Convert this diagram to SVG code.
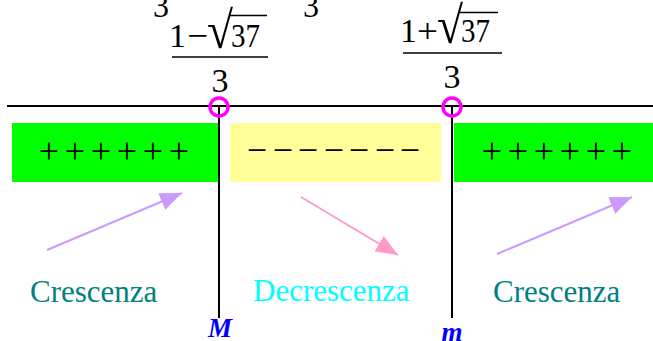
<svg xmlns="http://www.w3.org/2000/svg" width="653" height="341" viewBox="0 0 653 341">
<style>
.t{font-family:"Liberation Serif","Times New Roman",serif;fill:#000}
.f{font-size:34px}
.rad{font-size:52px}
.sign{font-size:36px;text-anchor:middle}
.lab{font-size:31px}
.pt{font-family:"Liberation Serif","Times New Roman",serif;font-size:27px;font-weight:bold;font-style:italic;fill:#0000ff;text-anchor:middle}
.crit{fill:none;stroke:#ff00ff;stroke-width:3.5}
.bar{stroke:#000;stroke-width:1.6}
</style>
<defs>
<marker id="hp" viewBox="0 0 22 18" refX="22" refY="9" markerWidth="22" markerHeight="18" markerUnits="userSpaceOnUse" orient="auto"><path d="M0,0 L22,9 L0,18 z" fill="#cc99ff"/></marker>
<marker id="hk" viewBox="0 0 22 18" refX="22" refY="9" markerWidth="22" markerHeight="18" markerUnits="userSpaceOnUse" orient="auto"><path d="M0,0 L22,9 L0,18 z" fill="#ff99cc"/></marker>
</defs>
<rect width="653" height="341" fill="#fff"/>
<g id="top-fragments">
<text class="t f" x="153" y="17" textLength="16" lengthAdjust="spacingAndGlyphs">3</text>
<text class="t f" x="303" y="17" textLength="16" lengthAdjust="spacingAndGlyphs">3</text>
</g>
<g id="root1">
<text class="t f" x="169" y="47" textLength="17" lengthAdjust="spacingAndGlyphs">1</text>
<text class="t f" x="187" y="47" textLength="21" lengthAdjust="spacingAndGlyphs">−</text>
<text class="t rad" x="207" y="48" textLength="26" lengthAdjust="spacingAndGlyphs">√</text>
<line class="bar" x1="230" y1="15.5" x2="267" y2="15.5"/>
<text class="t f" x="231" y="47" textLength="29" lengthAdjust="spacingAndGlyphs">37</text>
<line class="bar" x1="172" y1="57" x2="268" y2="57"/>
<text class="t f" x="220" y="92" text-anchor="middle">3</text>
</g>
<g id="root2">
<text class="t f" x="400" y="42" textLength="17" lengthAdjust="spacingAndGlyphs">1</text>
<text class="t f" x="417" y="42" textLength="21" lengthAdjust="spacingAndGlyphs">+</text>
<text class="t rad" x="437" y="43" textLength="26" lengthAdjust="spacingAndGlyphs">√</text>
<line class="bar" x1="460" y1="12.5" x2="498" y2="12.5"/>
<text class="t f" x="461" y="42" textLength="29" lengthAdjust="spacingAndGlyphs">37</text>
<line class="bar" x1="403" y1="53" x2="502" y2="53"/>
<text class="t f" x="452" y="88" text-anchor="middle">3</text>
</g>
<g id="axis">
<line x1="7" y1="106" x2="653" y2="106" stroke="#000" stroke-width="2"/>
</g>
<g id="sign-plus-left">
<rect x="12" y="123" width="206" height="59" fill="#00ff00"/>
<text class="t sign" x="49 75 101 127 153 179" y="162.5">++++++</text>
</g>
<g id="sign-minus">
<rect x="230" y="123" width="211" height="59" fill="#ffff99"/>
<text class="t sign" x="257 283 308 334 359 385 410" y="162">−−−−−−−</text>
</g>
<g id="sign-plus-right">
<rect x="454" y="123" width="199" height="59" fill="#00ff00"/>
<text class="t sign" x="492 518 544 570 596 622" y="162.5">++++++</text>
</g>
<g id="point-M">
<line x1="219" y1="107" x2="219" y2="318" stroke="#000" stroke-width="2"/>
<circle class="crit" cx="219" cy="107" r="9"/>
<text class="pt" x="220" y="337">M</text>
</g>
<g id="point-m">
<line x1="452" y1="107" x2="452" y2="318" stroke="#000" stroke-width="2"/>
<circle class="crit" cx="452" cy="107" r="9"/>
<text class="pt" x="452" y="341">m</text>
</g>
<g id="connectors">
<line x1="47" y1="250" x2="182" y2="193" stroke="#cc99ff" stroke-width="2" marker-end="url(#hp)"/>
<line x1="301" y1="197" x2="398" y2="255" stroke="#ff99cc" stroke-width="2" marker-end="url(#hk)"/>
<line x1="497" y1="254" x2="632" y2="197" stroke="#cc99ff" stroke-width="2" marker-end="url(#hp)"/>
</g>
<g id="labels">
<text class="t lab" x="30" y="302" style="fill:#008080">Crescenza</text>
<text class="t lab" x="253" y="301" style="fill:#00ffff">Decrescenza</text>
<text class="t lab" x="493" y="302" style="fill:#008080">Crescenza</text>
</g>
</svg>
